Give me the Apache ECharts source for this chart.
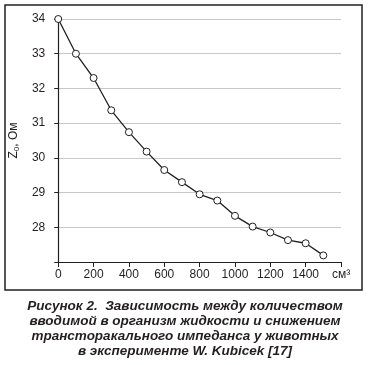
<!DOCTYPE html>
<html>
<head>
<meta charset="utf-8">
<script src="https://cdn.jsdelivr.net/npm/echarts@6/dist/echarts.min.js"></script>
<style>
html,body{margin:0;padding:0;background:#fff;}
#c{width:368px;height:365px;}
</style>
</head>
<body>
<div id="c"></div>
<script>
var volumes = [0, 100, 200, 300, 400, 500, 600, 700, 800, 900, 1000, 1100, 1200, 1300, 1400, 1500];
var impedance = [34.0, 33.0, 32.3, 31.37, 30.74, 30.18, 29.65, 29.3, 28.95, 28.77, 28.33, 28.02, 27.85, 27.63, 27.54, 27.19];
var xUnitLabel = 'см³';
var yAxisName = '{a|Z}{s|0}{a|, Ом}';
var captionLines = [
  'Рисунок 2.  Зависимость между количеством',
  'вводимой в организм жидкости и снижением',
  'трансторакального импеданса у животных',
  'в эксперименте W. Kubicek [17]'
];

var chart = echarts.init(document.getElementById('c'), null, {renderer: 'canvas'});
var font = 'Liberation Sans, Arial, Helvetica, sans-serif';
var pts = volumes.map(function (v, i) { return [v, impedance[i]]; });

chart.setOption({
  animation: false,
  backgroundColor: '#fff',
  textStyle: {fontFamily: font},
  graphic: [{
    type: 'rect',
    shape: {x: 5, y: 5, width: 357, height: 285},
    style: {fill: 'none', stroke: '#231f20', lineWidth: 1.5},
    z: 100
  }, {
    type: 'text',
    x: 185,
    y: 299,
    style: {
      text: captionLines.join('\n'),
      align: 'center',
      verticalAlign: 'top',
      font: 'italic bold 13.5px "Liberation Sans", Arial, sans-serif',
      lineHeight: 15,
      fill: '#231f20'
    },
    z: 100
  }],
  grid: {left: 52, right: 27, top: 19, bottom: 103},
  xAxis: {
    type: 'value',
    min: 0, max: 1600, interval: 200,
    axisLine: {show: true, lineStyle: {color: '#231f20', width: 1.2}},
    axisTick: {show: true, length: 5, lineStyle: {color: '#231f20', width: 1}},
    axisLabel: {
      color: '#231f20', fontSize: 12, margin: 7, fontFamily: font,
      formatter: function (v) { return v === 1600 ? xUnitLabel : String(v); }
    },
    splitLine: {show: false}
  },
  yAxis: {
    type: 'value',
    min: 27, max: 34, interval: 1,
    name: yAxisName,
    nameLocation: 'middle',
    nameGap: 24,
    nameRotate: 90,
    nameTextStyle: {
      color: '#231f20',
      rich: {
        a: {fontSize: 12, color: '#231f20', fontFamily: font},
        s: {fontSize: 8, color: '#231f20', fontFamily: font, verticalAlign: 'bottom', padding: [6, 0, 0, 0]}
      }
    },
    axisLine: {show: true, lineStyle: {color: '#231f20', width: 1.2}},
    axisTick: {show: true, length: 4, lineStyle: {color: '#231f20', width: 1}},
    axisLabel: {
      color: '#231f20', fontSize: 12, margin: 13, fontFamily: font,
      formatter: function (v) { return v === 27 ? '' : String(v); }
    },
    splitLine: {show: true, lineStyle: {color: '#c8c8c8', width: 1}}
  },
  series: [{
    type: 'line',
    data: pts,
    symbol: 'circle',
    symbolSize: 7,
    showSymbol: true,
    lineStyle: {color: '#231f20', width: 1.3},
    itemStyle: {color: '#fff', borderColor: '#231f20', borderWidth: 1},
    z: 5
  }]
});
</script>
</body>
</html>
